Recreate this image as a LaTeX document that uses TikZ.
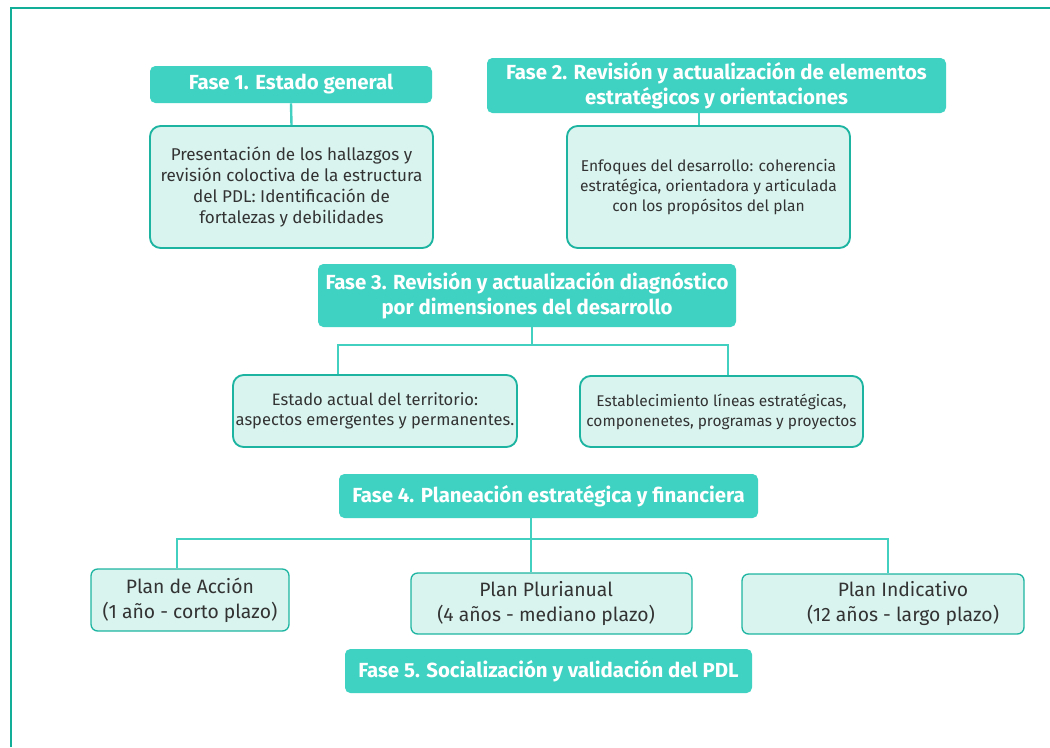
\documentclass[tikz,border=0pt]{standalone}
\usepackage{fontspec}
\setmainfont{Fira Sans}
\usetikzlibrary{positioning}

\definecolor{fasefill}{HTML}{3FD2C2}
\definecolor{boxfill}{HTML}{D9F4EF}
\definecolor{boxline}{HTML}{1DB5A2}
\definecolor{linkcol}{HTML}{42D0C0}
\definecolor{framecol}{HTML}{12AE98}
\definecolor{textcol}{HTML}{333333}

\begin{document}
\begin{tikzpicture}[x=0.75pt, y=-0.75pt]

            \tikzstyle{fase} = [rectangle, rounded corners=4pt, fill=fasefill, text=white, font=\fontsize{15.3}{18.5}\selectfont\bfseries, align=center, inner sep=2pt]
            \tikzstyle{info} = [rectangle, rounded corners=8pt, fill=boxfill, draw=boxline, line width=1.4pt, text=textcol, font=\fontsize{12.8}{15.9}\selectfont, align=center, inner sep=2pt]
            \tikzstyle{plan} = [rectangle, rounded corners=5pt, fill=boxfill, draw=boxline, line width=1pt, text=textcol, font=\fontsize{14.5}{18.75}\selectfont, align=center, inner sep=2pt]
            \tikzstyle{link} = [draw=linkcol, line width=1.8pt]

            \useasboundingbox (0,0) rectangle (1050,747);
            \draw [framecol, line width=2.2pt] (11,747) -- (11,8) -- (1050,8);

            % Nodes
            \node (fase1) [fase, minimum width=211.5pt, minimum height=27.75pt] at (291,84.5) {Fase 1. Estado general};
            \node (fase2) [fase, minimum width=344.25pt, minimum height=41.25pt] at (716.5,85.5) {Fase 2. Revisión y actualización de elementos\\estratégicos y orientaciones};
            \node (hallaz) [info, minimum width=212.25pt, minimum height=91.5pt] at (291.5,187) {Presentación de los hallazgos y\\revisión coloctiva de la estructura\\del PDL: Identificación de\\fortalezas y debilidades};
            \node (enfoq) [info, font=\fontsize{11.7}{15}\selectfont, minimum width=212.25pt, minimum height=91.5pt] at (708.5,187) {Enfoques del desarrollo: coherencia\\estratégica, orientadora y articulada\\con los propósitos del plan};
            \node (fase3) [fase, minimum width=313.5pt, minimum height=47.25pt] at (527,295.5) {Fase 3. Revisión y actualización diagnóstico\\por dimensiones del desarrollo};
            \node (estado) [info, font=\fontsize{12.4}{15}\selectfont, minimum width=211.5pt, minimum height=54pt] at (375,411) {Estado actual del territorio:\\aspectos emergentes y permanentes.};
            \node (establ) [info, font=\fontsize{11.6}{15}\selectfont, minimum width=212.25pt, minimum height=53.25pt] at (721.5,411.5) {Establecimiento líneas estratégicas,\\componenetes, programas y proyectos};
            \node (fase4) [fase, minimum width=314.25pt, minimum height=33pt] at (548.5,496) {Fase 4. Planeación estratégica y financiera};
            \node (accion) [plan, minimum width=148.5pt, minimum height=46.5pt] at (190,600) {Plan de Acción\\(1 año - corto plazo)};
            \node (pluri) [plan, minimum width=210.75pt, minimum height=45.75pt] at (551.5,603.5) {\hspace*{-8pt}\begin{tabular}{@{}c@{}}Plan Plurianual\\(4 años - mediano plazo)\end{tabular}};
            \node (indic) [plan, minimum width=211.5pt, minimum height=45pt] at (883,604) {\hspace*{30pt}\begin{tabular}{@{}c@{}}Plan Indicativo\\(12 años - largo plazo)\end{tabular}};
            \node (fase5) [fase, minimum width=305.25pt, minimum height=33pt] at (548.5,671) {Fase 5. Socialización y validación del PDL};

            % Branch points
            \coordinate (b3l) at (338,345);
            \coordinate (b3m) at (532,345);
            \coordinate (b3r) at (728,345);
            \coordinate (b4l) at (177,539);
            \coordinate (b4m) at (531,539);
            \coordinate (b4r) at (888,539);

            % Lines
            \draw [link] (fase1.south) -- (hallaz.north);
            \draw [link] ([xshift=-7pt]enfoq.north) -- ([xshift=-7pt]enfoq.north |- fase2.south);
            \draw [link] (fase3.south -| b3m) -- (b3m);
            \draw [link] (estado.north -| b3l) |- (b3r) -- (establ.north -| b3r);
            \draw [link] (fase4.south -| b4m) -- (pluri.north -| b4m);
            \draw [link] (accion.north -| b4l) |- (b4r) -- (indic.north -| b4r);
        \end{tikzpicture}
\end{document}
